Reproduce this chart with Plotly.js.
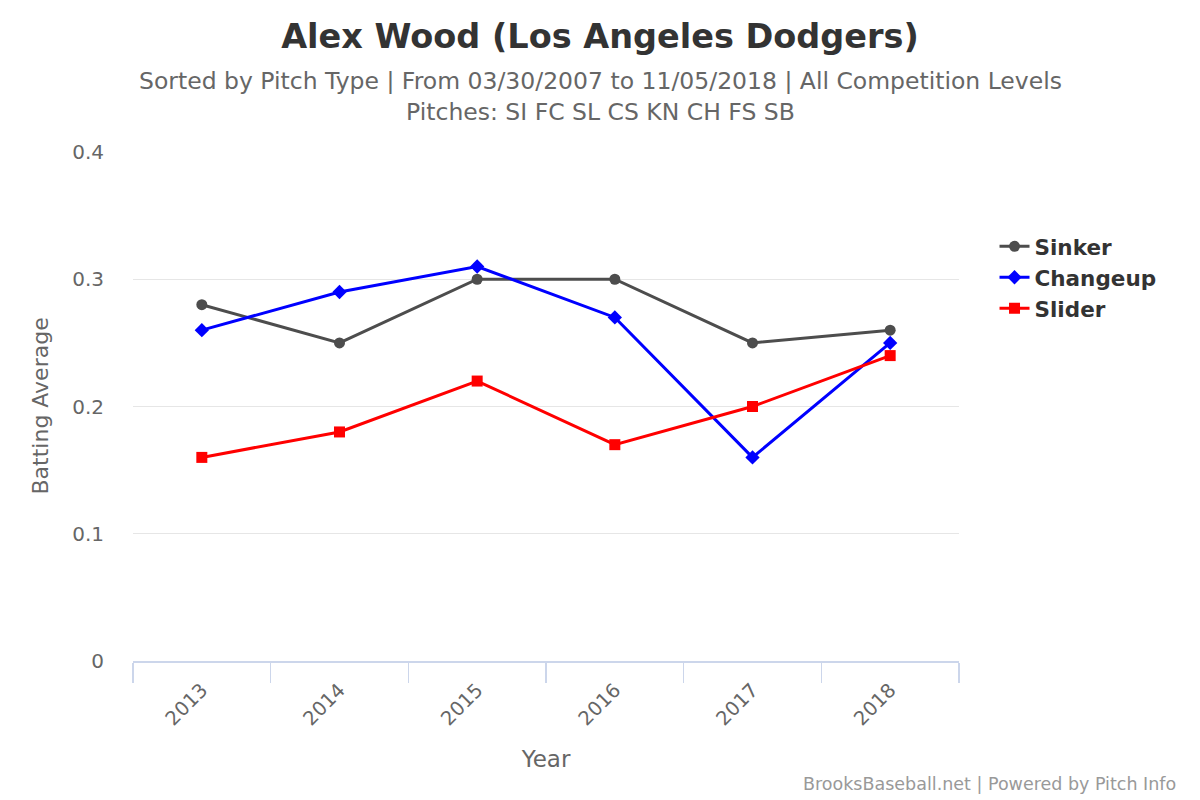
<!DOCTYPE html>
<html>
<head>
<meta charset="utf-8">
<script src="https://cdn.plot.ly/plotly-3.0.1.min.js"></script>
<style>
  html, body { margin: 0; padding: 0; background: #fff; }
  #chart { width: 1200px; height: 800px; }
</style>
</head>
<body>
<div id="chart"></div>
<script>
'use strict';

var years = ['2013', '2014', '2015', '2016', '2017', '2018'];
var sinker = [0.28, 0.25, 0.30, 0.30, 0.25, 0.26];
var changeup = [0.26, 0.29, 0.31, 0.27, 0.16, 0.25];
var slider = [0.16, 0.18, 0.22, 0.17, 0.20, 0.24];
var yTicks = [0, 0.1, 0.2, 0.3, 0.4];

var font = 'DejaVu Sans, Verdana, sans-serif';

function series(name, y, color, symbol, size) {
	return {
		x: years,
		y: y,
		name: name,
		type: 'scatter',
		mode: 'lines+markers',
		line: { color: color, width: 3 },
		marker: { color: color, symbol: symbol, size: size }
	};
}

var data = [
	series('Sinker', sinker, '#4d4d4d', 'circle', 11),
	series('Changeup', changeup, '#0000ff', 'diamond', 11),
	series('Slider', slider, '#ff0000', 'square', 11)
];

var layout = {
	width: 1200,
	height: 800,
	margin: { l: 133, r: 241, t: 152, b: 139 },
	paper_bgcolor: '#fff',
	plot_bgcolor: '#fff',
	font: { family: font, color: '#666' },
	showlegend: true,
	legend: {
		x: 1.043, xanchor: 'left',
		y: 0.855, yanchor: 'top',
		font: { family: font, size: 21.5, color: '#333', weight: 'bold' },
		tracegroupgap: 0
	},
	xaxis: {
		type: 'category',
		range: [-0.5, 5.5],
		tickson: 'boundaries',
		ticks: 'outside',
		ticklen: 20,
		tickcolor: '#ccd6eb',
		tickwidth: 1.5,
		showline: true,
		linecolor: '#ccd6eb',
		linewidth: 2,
		showgrid: false,
		tickangle: -45,
		ticklabelstandoff: 8,
		tickfont: { family: font, size: 19.5, color: '#666' },
		title: { text: 'Year', font: { family: font, size: 23, color: '#666' }, standoff: 22 },
		fixedrange: true
	},
	yaxis: {
		range: [0, 0.4],
		tickvals: yTicks,
		ticktext: yTicks.map(function (v) { return String(v); }),
		showline: false,
		zeroline: false,
		gridcolor: '#e6e6e6',
		gridwidth: 1,
		ticks: '',
		ticklabelstandoff: 28,
		tickfont: { family: font, size: 20, color: '#666' },
		fixedrange: true
	},
	title: {
		text: 'Alex Wood (Los Angeles Dodgers)',
		font: { family: font, size: 33.5, color: '#333', weight: 'bold' },
		x: 0.5, xref: 'container',
		y: 0.955, yref: 'container', yanchor: 'middle'
	},
	annotations: [
		{
			text: 'Sorted by Pitch Type | From 03/30/2007 to 11/05/2018 | All Competition Levels<br>Pitches: SI FC SL CS KN CH FS SB',
			xref: 'paper', yref: 'paper',
			x: (600 - 133) / 826, y: (661 - 96) / 509,
			xanchor: 'center', yanchor: 'middle',
			showarrow: false,
			font: { family: font, size: 23.5, color: '#666' }
		},
		{
			text: 'Batting Average',
			xref: 'paper', yref: 'paper',
			x: (40 - 133) / 826, y: 0.5,
			xanchor: 'center', yanchor: 'middle',
			textangle: -90,
			showarrow: false,
			font: { family: font, size: 22, color: '#666' }
		},
		{
			text: 'BrooksBaseball.net | Powered by Pitch Info',
			xref: 'paper', yref: 'paper',
			x: (1178 - 133) / 826, y: (661 - 784) / 509,
			xanchor: 'right', yanchor: 'middle',
			showarrow: false,
			font: { family: font, size: 17.5, color: '#999' }
		}
	]
};

Plotly.newPlot('chart', data, layout, { displayModeBar: false, staticPlot: true });
</script>
</body>
</html>
